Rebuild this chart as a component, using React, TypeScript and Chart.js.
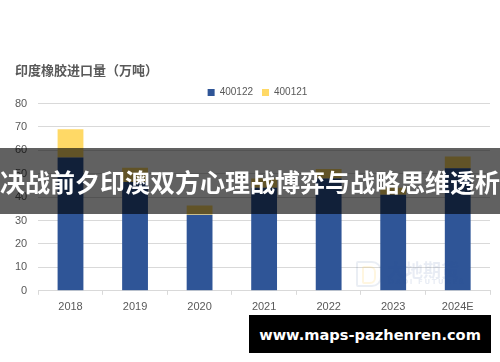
import React, { useEffect, useRef } from "react";
import { Chart, registerables } from "chart.js";

Chart.register(...registerables);

const categories = ["2018", "2019", "2020", "2021", "2022", "2023", "2024E"];
const series400122 = [57, 46.5, 32.5, 44, 48, 41, 52.4];
const series400121 = [12, 6.1, 4, 4, 4, 3, 5];
const yTicks = [0, 10, 20, 30, 40, 50, 60, 70, 80];

const chartTitle = "印度橡胶进口量（万吨）";
const bannerText = "决战前夕印澳双方心理战博弈与战略思维透析";
const siteText = "www.maps-pazhenren.com";

const legendShift = {
  id: "legendShift",
  afterLayout(chart: any) {
    const lg = chart.legend;
    if (lg) {
      lg.left += 5;
      lg.right += 5;
      lg.top += 1;
      lg.bottom += 1;
    }
  },
};

export default function App() {
  const canvasRef = useRef<HTMLCanvasElement | null>(null);

  useEffect(() => {
    document.body.style.margin = "0";
    const canvas = canvasRef.current;
    if (!canvas) return;
    const chart = new Chart(canvas, {
      type: "bar",
      data: {
        labels: categories,
        datasets: [
          {
            label: "400122",
            data: series400122,
            backgroundColor: "#2F5597",
            categoryPercentage: 1,
            barPercentage: 0.4,
          },
          {
            label: "400121",
            data: series400121,
            backgroundColor: "#FFD966",
            categoryPercentage: 1,
            barPercentage: 0.4,
          },
        ],
      },
      plugins: [legendShift],
      options: {
        responsive: false,
        animation: false,
        layout: { padding: { top: 62, left: 15, right: 10, bottom: 42 } },
        plugins: {
          title: {
            display: true,
            text: chartTitle,
            align: "start",
            color: "#595959",
            font: { family: "'Noto Sans CJK SC', sans-serif", size: 13, weight: "bold" },
            padding: { top: 0, bottom: 0 },
          },
          legend: {
            display: true,
            position: "top",
            labels: {
              boxWidth: 7,
              boxHeight: 7,
              padding: 9,
              color: "#595959",
              font: { family: "'Liberation Sans', sans-serif", size: 10 },
            },
          },
          tooltip: { enabled: false },
        },
        scales: {
          x: {
            stacked: true,
            grid: {
              display: true,
              drawOnChartArea: false,
              drawTicks: true,
              tickLength: 4,
              color: "#d9d9d9",
              offset: true,
            },
            border: { display: true, color: "#d9d9d9" },
            ticks: {
              color: "#595959",
              padding: 6,
              font: { family: "'Liberation Sans', sans-serif", size: 11 },
            },
          },
          y: {
            stacked: true,
            min: yTicks[0],
            max: yTicks[yTicks.length - 1],
            afterBuildTicks: (scale: any) => {
              scale.ticks = yTicks.map((v) => ({ value: v }));
            },
            grid: { color: "#d9d9d9", drawTicks: true, tickLength: 11, tickColor: "rgba(0,0,0,0)" },
            border: { display: false },
            ticks: {
              color: "#595959",
              padding: 0,
              font: { family: "'Liberation Sans', sans-serif", size: 11 },
            },
          },
        },
      },
    });
    const legend: any = (chart as any).legend;
    if (legend) {
      const origFit = legend.fit.bind(legend);
      legend.fit = function () {
        origFit();
        this.height = this.height - 3;
      };
      chart.update();
    }
    return () => chart.destroy();
  }, []);

  return (
    <div style={{ position: "fixed", left: 0, top: 0, width: 500, height: 362, background: "#fff", overflow: "hidden" }}>
      <canvas ref={canvasRef} width={500} height={362} style={{ position: "absolute", left: 0, top: 0 }} />
      {/* faint watermark logo */}
      <div style={{ position: "absolute", left: 356, top: 261, width: 22, height: 22, border: "2px solid rgba(47,85,151,0.10)", borderRadius: "2px 10px 10px 2px", pointerEvents: "none" }} />
      <div style={{ position: "absolute", left: 362, top: 266, width: 10, height: 14, border: "2px solid rgba(255,200,60,0.16)", borderRadius: "2px 6px 6px 2px", pointerEvents: "none" }} />
      <div style={{ position: "absolute", left: 387, top: 259, fontFamily: "'Noto Sans CJK SC', sans-serif", fontSize: 18, fontWeight: 700, color: "rgba(47,85,151,0.11)", lineHeight: "20px", whiteSpace: "nowrap", pointerEvents: "none" }}>大地期货</div>
      <div style={{ position: "absolute", left: 388, top: 278, fontFamily: "'DejaVu Sans', sans-serif", fontSize: 7, fontWeight: 700, letterSpacing: 1.6, color: "rgba(47,85,151,0.11)", lineHeight: "9px", whiteSpace: "nowrap", pointerEvents: "none" }}>DADI FUTURES</div>
      {/* banner */}
      <div style={{ position: "absolute", left: 0, top: 148, width: 500, height: 66, background: "rgba(0,0,0,0.62)", display: "flex", alignItems: "center", justifyContent: "center", overflow: "hidden" }}>
        <span style={{ color: "#fff", fontFamily: "'Noto Sans CJK SC', sans-serif", fontWeight: 700, fontSize: 25, whiteSpace: "nowrap", lineHeight: "30px" }}>{bannerText}</span>
      </div>
      {/* site box */}
      <div style={{ position: "absolute", left: 249, top: 315, width: 242, height: 38, background: "#000", display: "flex", alignItems: "center", justifyContent: "center" }}>
        <span style={{ color: "#fff", fontFamily: "'DejaVu Sans', sans-serif", fontWeight: 700, fontSize: 14.6, whiteSpace: "nowrap" }}>{siteText}</span>
      </div>
    </div>
  );
}
